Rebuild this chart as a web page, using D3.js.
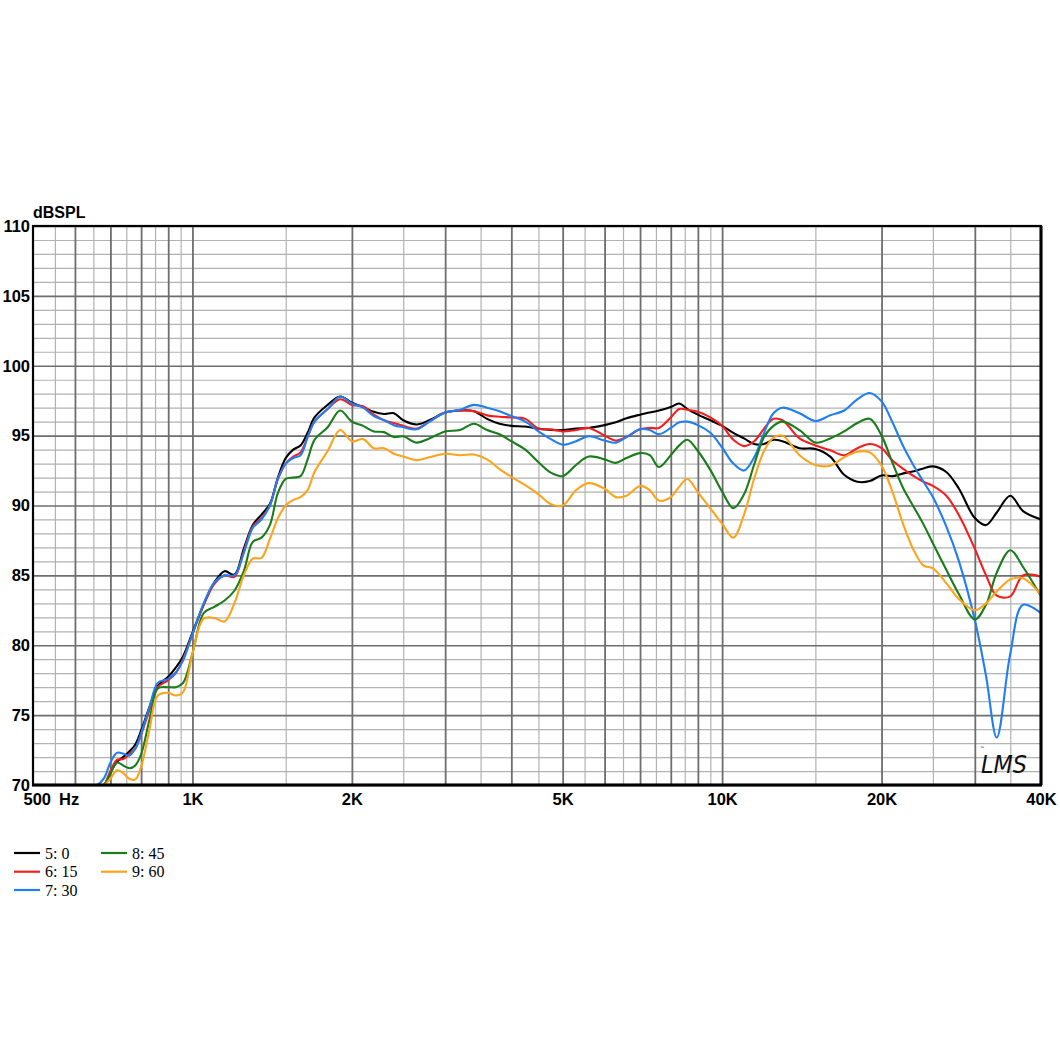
<!DOCTYPE html>
<html><head><meta charset="utf-8">
<script src="https://cdn.jsdelivr.net/npm/d3@7"></script>
<style>
html,body{margin:0;padding:0;background:#fff;}
svg{display:block;}
</style></head><body>
<svg id="chart" width="1060" height="1060"></svg>
<script>
// ---- data ----
const freqs = [500,600,640,660,680,700,720,740,760,780,
  800,830,860,900,930,960,1000,1050,1100,1150,
  1200,1250,1300,1350,1400,1450,1500,1550,1600,1650,
  1700,1800,1900,2000,2100,2200,2300,2400,2500,2650,
  2800,3000,3200,3400,3600,3800,4000,4250,4500,4750,
  5000,5300,5600,6000,6300,6600,7000,7300,7600,8000,
  8300,8600,9000,9500,10000,10500,11000,11500,12000,12500,
  13000,14000,15000,16000,17000,18000,19000,20000,21000,22000,
  23000,24000,25000,26500,28000,30000,31500,33000,35000,37000,
  40000];

const s5_0 = [70,70,70,70,70.0,70.9,71.65,72.0,72.4,72.9,
  73.9,75.6,77.1,77.75,78.4,79.2,80.9,82.9,84.5,85.3,
  85.05,86.9,88.6,89.35,90.1,92.0,93.4,94.0,94.3,95.2,
  96.3,97.2,97.8,97.35,97.05,96.7,96.55,96.6,96.1,95.8,
  96.1,96.65,96.8,96.75,96.2,95.85,95.7,95.65,95.5,95.4,
  95.4,95.5,95.55,95.75,95.95,96.25,96.5,96.65,96.8,97.05,
  97.3,96.9,96.5,96.1,95.7,95.2,94.8,94.4,94.4,94.7,
  94.6,94.1,94.05,93.5,92.2,91.7,91.75,92.15,92.1,92.3,
  92.45,92.65,92.8,92.4,91.2,89.1,88.6,89.5,90.7,89.6,
  89.0];

const s6_15 = [70,70,70,70,70.0,71.0,71.8,71.85,72.2,72.6,
  73.6,75.4,77.0,77.5,78.0,79.0,80.8,82.9,84.4,85.0,
  84.9,86.7,88.5,89.1,90.0,91.9,93.0,93.5,93.8,94.9,
  96.0,96.9,97.6,97.2,97.1,96.5,96.1,95.9,95.7,95.5,
  96.0,96.65,96.8,96.75,96.45,96.35,96.3,96.2,95.5,95.45,
  95.3,95.4,95.55,95.0,94.65,94.9,95.45,95.55,95.55,96.3,
  96.9,96.85,96.7,96.3,95.7,94.7,94.25,94.6,95.5,96.2,
  96.1,94.8,94.3,93.95,93.6,94.1,94.4,94.1,93.2,92.6,
  92.1,91.7,91.4,90.7,89.3,86.9,85.0,83.55,83.5,85.0,
  84.9];

const s7_30 = [70,70,70,70.0,70.45,71.6,72.3,72.25,72.1,72.6,
  73.7,75.6,77.3,77.6,78.05,78.9,80.8,83.0,84.5,85.0,
  85.0,86.6,88.4,89.0,90.0,91.9,93.0,93.4,93.6,94.9,
  96.0,96.9,97.8,97.3,97.0,96.4,96.1,95.75,95.6,95.45,
  96.0,96.65,96.85,97.2,97.0,96.75,96.4,96.0,95.3,94.75,
  94.35,94.6,94.95,94.65,94.5,94.9,95.45,95.4,95.1,95.55,
  95.95,96.0,95.75,95.2,94.15,93.0,92.5,93.45,95.2,96.6,
  97.0,96.6,96.05,96.45,96.8,97.6,98.05,97.45,95.9,94.2,
  92.85,91.7,90.6,88.5,86.0,81.8,77.8,73.4,79.4,82.9,
  82.3];

const s8_45 = [70,70,70,70,70.0,70.8,71.6,71.4,71.2,71.4,
  72.2,74.7,76.9,77.0,77.0,77.3,79.4,82.3,82.75,83.2,
  83.9,85.3,87.4,87.7,88.6,90.9,91.9,92.0,92.1,93.3,
  94.7,95.6,96.8,96.0,95.7,95.3,95.25,94.9,94.95,94.5,
  94.8,95.3,95.4,95.85,95.4,95.1,94.6,94.0,93.1,92.35,
  92.1,92.9,93.5,93.3,93.05,93.4,93.75,93.6,92.75,93.6,
  94.3,94.7,93.9,92.55,91.0,89.8,90.8,92.95,94.9,95.7,
  96.0,95.4,94.5,94.8,95.3,95.9,96.2,95.0,93.0,91.2,
  89.9,88.65,87.3,85.4,83.65,81.85,82.9,85.2,86.8,85.6,
  83.5];

const s9_60 = [70,70,70,70,70.0,70.45,71.05,70.85,70.45,70.4,
  71.3,74.0,76.4,76.6,76.4,76.65,79.4,81.9,81.95,81.7,
  83.0,85.0,86.2,86.25,87.6,89.1,90.0,90.4,90.6,91.1,
  92.4,93.9,95.4,94.6,94.75,94.1,94.1,93.7,93.5,93.25,
  93.45,93.7,93.6,93.65,93.3,92.6,92.05,91.45,90.8,90.1,
  90.0,91.1,91.6,91.2,90.6,90.7,91.4,91.1,90.35,90.6,
  91.35,91.9,90.95,89.8,88.7,87.7,89.35,91.95,93.9,94.85,
  95.0,93.6,92.9,92.85,93.45,93.85,93.8,92.85,90.9,88.6,
  86.8,85.7,85.5,84.45,83.3,82.5,83.0,83.85,84.7,84.8,
  83.6];

const seriesNames = ["5: 0","6: 15","7: 30","8: 45","9: 60"];
const seriesValues = [s5_0, s6_15, s7_30, s8_45, s9_60];
const seriesColors = ["#000000","#f41e1e","#1f7ef2","#1a7c1a","#fca41c"];

const xTickValues = [500,1000,2000,5000,10000,20000,40000];
const xTickLabels = ["500","1K","2K","5K","10K","20K","40K"];
const yTickValues = [70,75,80,85,90,95,100,105,110];
const yMinorValues = [71,72,73,74,76,77,78,79,81,82,83,84,86,87,88,89,91,92,93,94,96,97,98,99,101,102,103,104,106,107,108,109];
const xMajorGrid = [600,700,800,900,1000,2000,3000,4000,5000,6000,7000,8000,9000,10000,20000,30000];
const xMinorGrid = [550,650,750,850,950,1500,2500,3500,4500,5500,6500,7500,8500,9500,15000,25000,35000];

// ---- layout ----
const L = 33, R = 1041, T = 226, B = 785;
const W = R - L, H = B - T;
const svg = d3.select("#chart");
const x = d3.scaleLog().domain([500, 40000]).range([L, R]);
const y = d3.scaleLinear().domain([70, 110]).range([B, T]);

// grid
function gridX(vals, color, width) {
  const g = svg.append("g").attr("transform", `translate(0,${B})`)
    .call(d3.axisBottom(x).tickValues(vals).tickSize(-H).tickFormat(""));
  g.select(".domain").remove();
  g.selectAll("line").attr("stroke", color).attr("stroke-width", width);
}
function gridY(vals, color, width) {
  const g = svg.append("g").attr("transform", `translate(${L},0)`)
    .call(d3.axisLeft(y).tickValues(vals).tickSize(-W).tickFormat(""));
  g.select(".domain").remove();
  g.selectAll("line").attr("stroke", color).attr("stroke-width", width);
}
gridY(yMinorValues, "#b2b2b2", 1.2);
gridX(xMinorGrid, "#b2b2b2", 1.2);
gridY(yTickValues, "#6e6e6e", 1.6);
gridX(xMajorGrid, "#6e6e6e", 1.8);

// clip
svg.append("clipPath").attr("id", "clip").append("rect")
  .attr("x", L).attr("y", T).attr("width", W).attr("height", H);

const line = d3.line()
  .x(d => x(d[0])).y(d => y(d[1]))
  .curve(d3.curveCatmullRom.alpha(0.5));

const curves = svg.append("g").attr("clip-path", "url(#clip)");
seriesValues.forEach((vals, i) => {
  const pts = freqs.map((f, j) => [f, vals[j]]);
  curves.append("path").datum(pts)
    .attr("d", line)
    .attr("fill", "none")
    .attr("stroke", seriesColors[i])
    .attr("stroke-width", 2.1)
    .attr("stroke-linejoin", "round");
});

// frame
svg.append("rect").attr("x", L).attr("y", T).attr("width", W).attr("height", H)
  .attr("fill", "none").attr("stroke", "#000").attr("stroke-width", 2.2);
svg.append("line").attr("x1", L - 1).attr("x2", R + 1).attr("y1", B).attr("y2", B)
  .attr("stroke", "#000").attr("stroke-width", 3);
svg.append("line").attr("x1", R).attr("x2", R).attr("y1", T).attr("y2", B)
  .attr("stroke", "#000").attr("stroke-width", 3);

// axes labels
const font = "'Liberation Sans', Arial, sans-serif";
const yAx = svg.append("g").attr("transform", `translate(${L},0)`)
  .call(d3.axisLeft(y).tickValues(yTickValues).tickSize(0).tickPadding(3).tickFormat(d3.format("d")));
yAx.select(".domain").remove();
yAx.selectAll("text").attr("font-family", font).attr("font-size", 16.5)
  .attr("font-weight", "bold").attr("fill", "#000");

const xAx = svg.append("g").attr("transform", `translate(0,${B})`)
  .call(d3.axisBottom(x).tickValues(xTickValues).tickSize(0).tickPadding(8)
    .tickFormat((d, i) => xTickLabels[i]));
xAx.select(".domain").remove();
xAx.selectAll("text").attr("font-family", font).attr("font-size", 16.5)
  .attr("font-weight", "bold").attr("fill", "#000");
xAx.selectAll("text").filter((d, i) => i === 0).attr("text-anchor", "start").attr("x", -10);

svg.append("text").attr("x", 59).attr("y", 805).text("Hz")
  .attr("font-family", font).attr("font-size", 16.5).attr("font-weight", "bold");

svg.append("text").attr("x", 33).attr("y", 218).text("dBSPL")
  .attr("font-family", font).attr("font-size", 16).attr("font-weight", "bold");

// LMS logo
svg.append("text").attr("x", 981).attr("y", 773).text("LMS")
  .attr("font-family", "'DejaVu Sans', sans-serif").attr("font-style", "italic")
  .attr("font-size", 25).attr("textLength", 46).attr("lengthAdjust", "spacingAndGlyphs")
  .attr("fill", "#111").attr("font-weight", "300");
svg.append("text").attr("x", 980).attr("y", 749).text("™")
  .attr("font-family", font).attr("font-size", 4).attr("fill", "#333");

// legend
const legRows = [[14, 853], [14, 871.7], [14, 890], [101, 853], [101, 871.7]];
const leg = svg.append("g");
seriesNames.forEach((n, i) => {
  const [lx, ly] = legRows[i];
  leg.append("line").attr("x1", lx).attr("x2", lx + 26).attr("y1", ly).attr("y2", ly)
    .attr("stroke", seriesColors[i]).attr("stroke-width", 2.2);
  leg.append("text").attr("x", lx + 31).attr("y", ly + 5.5).text(n)
    .attr("font-family", "'Liberation Serif', 'Times New Roman', serif")
    .attr("font-size", 16).attr("fill", "#000");
});
</script>
</body></html>
